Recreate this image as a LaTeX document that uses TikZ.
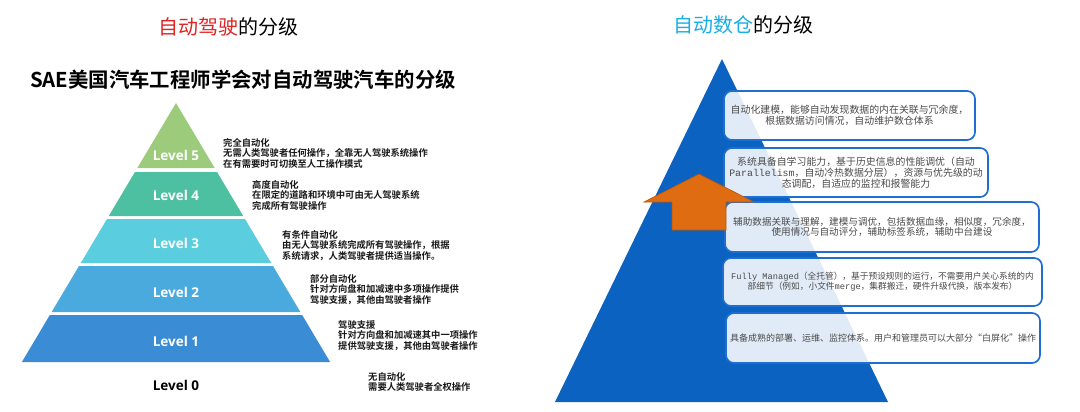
\documentclass[tikz,border=0pt]{standalone}
\usepackage{fontspec}
\setmainfont{Noto Sans CJK SC}[BoldFont={Noto Sans CJK SC Bold}]
\newfontfamily\latinfont{Open Sans}
\newfontfamily\monofont{Liberation Mono}
\usepackage{xcolor}
\usetikzlibrary{calc}

\definecolor{lvfive}{HTML}{9CCB7B}
\definecolor{lvfour}{HTML}{4EC0A2}
\definecolor{lvthree}{HTML}{5ACEDF}
\definecolor{lvtwo}{HTML}{4BAADD}
\definecolor{lvone}{HTML}{3A8CD4}
\definecolor{wareblue}{HTML}{0B62C0}
\definecolor{boxblue}{HTML}{1F6FD2}
\definecolor{arroworange}{HTML}{E06C12}
\definecolor{titlered}{HTML}{E02424}
\definecolor{titlecyan}{HTML}{1AAEE6}
\definecolor{boxtext}{HTML}{4A4A4A}

\begin{document}
\begin{tikzpicture}[x=1pt, y=-1pt,
  heading/.style={font=\fontsize{20}{24}\selectfont},
  lvlabel/.style={font=\latinfont\bfseries\fontsize{13.5}{16}\selectfont, text=white},
  lvdesc/.style={font=\bfseries\fontsize{9.3}{10.6}\selectfont, align=left, anchor=north west, inner sep=0pt, text=black!90},
  warebox/.style={draw=boxblue, line width=1.7pt, rounded corners=8pt, fill=white, fill opacity=0.88, text opacity=1, text=boxtext, align=center, inner sep=0pt, font=\fontsize{9.9}{10.8}\selectfont}
]

% canvas
\fill[white] (0,0) rectangle (1080,412);
\useasboundingbox (0,0) rectangle (1080,412);

% Titles
\node[heading] (titleL) at (228,27) {\textcolor{titlered}{自动驾驶}的分级};
\node[heading] (titleR) at (743,25) {\textcolor{titlecyan}{自动数仓}的分级};
\node[font=\bfseries\fontsize{20.4}{24}\selectfont] (sae) at (243,80) {SAE美国汽车工程师学会对自动驾驶汽车的分级};

% Left pyramid: band top/bottom, colour, level, label y
\foreach \ya/\yb/\col/\lv/\ly in {103/168/lvfive/5/155, 172/216/lvfour/4/195, 219/263/lvthree/3/243, 266/312/lvtwo/2/292, 315/362/lvone/1/341} {
  \pgfmathsetmacro{\wa}{0.595*(\ya-103)}
  \pgfmathsetmacro{\wb}{0.595*(\yb-103)}
  \fill[\col] (176-\wa,\ya) -- (176+\wa,\ya) -- (176+\wb,\yb) -- (176-\wb,\yb) -- cycle;
  \node[lvlabel] (lvl\lv) at (176,\ly) {Level \lv};
}
\node[lvlabel, text=black] (lvl0) at (176,385) {Level 0};

% Level descriptions
\node[lvdesc] (desc5) at (223,138) {完全自动化\\无需人类驾驶者任何操作，全靠无人驾驶系统操作\\在有需要时可切换至人工操作模式};
\node[lvdesc] (desc4) at (252,180) {高度自动化\\在限定的道路和环境中可由无人驾驶系统\\完成所有驾驶操作};
\node[lvdesc] (desc3) at (282,230) {有条件自动化\\由无人驾驶系统完成所有驾驶操作，根据\\系统请求，人类驾驶者提供适当操作。};
\node[lvdesc] (desc2) at (310,274) {部分自动化\\针对方向盘和加减速中多项操作提供\\驾驶支援，其他由驾驶者操作};
\node[lvdesc] (desc1) at (338,320) {驾驶支援\\针对方向盘和加减速其中一项操作\\提供驾驶支援，其他由驾驶者操作};
\node[lvdesc] (desc0) at (368,372) {无自动化\\需要人类驾驶者全权操作};

% Right pyramid
\fill[wareblue] (722,59) -- (888,402) -- (555,402) -- cycle;

% Stage boxes
\node[warebox, minimum width=251, minimum height=49] (box1) at (849.5,115.5) {自动化建模，能够自动发现数据的内在关联与冗余度，\\根据数据访问情况，自动维护数仓体系};
\node[warebox, minimum width=264, minimum height=49] (box2) at (856,172.5) {系统具备自学习能力，基于历史信息的性能调优（自动\\{\monofont Parallelism}，自动冷热数据分层），资源与优先级的动\\态调配，自适应的监控和报警能力};
\node[warebox, minimum width=314, minimum height=50, font=\fontsize{9.6}{10.8}\selectfont] (box3) at (882,227) {辅助数据关联与理解，建模与调优，包括数据血缘，相似度，冗余度，\\使用情况与自动评分，辅助标签系统，辅助中台建设};
\node[warebox, minimum width=319, minimum height=48, font=\fontsize{8.7}{10.2}\selectfont] (box4) at (882.5,282) {{\monofont Fully Managed}（全托管），基于预设规则的运行，不需要用户关心系统的内\\部细节（例如，小文件{\monofont merge}，集群搬迁，硬件升级代换，版本发布）};
\node[warebox, minimum width=314, minimum height=50, font=\fontsize{9}{10.8}\selectfont] (box5) at (883,338) {具备成熟的部署、运维、监控体系。用户和管理员可以大部分“白屏化”操作};

% Orange up arrow
\filldraw[fill=arroworange, draw=arroworange!80!black, line width=0.6pt] (699,174) -- (754,202) -- (726,202) -- (726,230) -- (672,230) -- (672,202) -- (644,202) -- cycle;

\end{tikzpicture}
\end{document}
